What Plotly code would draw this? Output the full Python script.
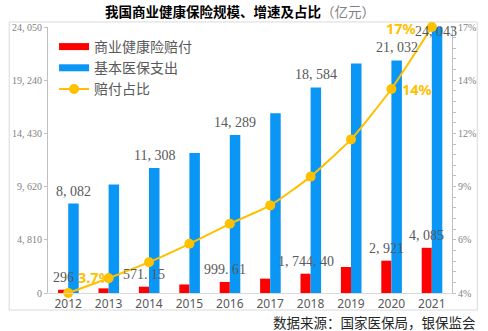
import plotly.graph_objects as go

# Data (亿元 / ratio)
years = [2012, 2013, 2014, 2015, 2016, 2017, 2018, 2019, 2020, 2021]
commercial_payout = [296, 420, 571.15, 770, 999.61, 1300, 1744.40, 2350, 2921, 4085]
basic_medical_spend = [8082, 9800, 11308, 12650, 14289, 16250, 18584, 20750, 21032, 24043]
payout_share = [0.037, 0.0444, 0.0524, 0.0616, 0.0716, 0.0808, 0.0952, 0.1138, 0.139, 0.17]

# Which bars carry value labels
labelled_years = [2012, 2014, 2016, 2018, 2020, 2021]
# Which points of the share line carry a label, with (xshift, yshift) in px
share_label_shift = {2012: (27, 16), 2020: (26, 0), 2021: (-31, -1)}

left_ticks = [0, 4810, 9620, 14430, 19240, 24050]
right_min, right_max = 0.037, 0.17
right_step = (right_max - right_min) / 5
right_ticks = [right_min + i * right_step for i in range(6)]

RED = "#FF0000"
BLUE = "#0A96F5"
GOLD = "#FFC000"
GREY = "#595959"
SERIF = "Liberation Serif"
CJK = "Noto Sans CJK SC"


def fmt_num(v):
    s = f"{v:,.2f}" if isinstance(v, float) else f"{v:,}"
    return s.replace(",", ", ").replace(".", ". ")


fig = go.Figure()

# Legend entries drawn as thick line swatches
fig.add_trace(go.Scatter(x=[None], y=[None], mode="lines", name="商业健康险赔付",
                         line=dict(color=RED, width=7), hoverinfo="skip"))
fig.add_trace(go.Scatter(x=[None], y=[None], mode="lines", name="基本医保支出",
                         line=dict(color=BLUE, width=7), hoverinfo="skip"))

fig.add_trace(go.Bar(x=years, y=commercial_payout, name="商业健康险赔付", showlegend=False,
                     marker=dict(color=RED, line=dict(width=0)), width=0.25, offset=-0.25))
fig.add_trace(go.Bar(x=years, y=basic_medical_spend, name="基本医保支出", showlegend=False,
                     marker=dict(color=BLUE, line=dict(width=0)), width=0.26, offset=0.0))

fig.add_trace(go.Scatter(x=years, y=payout_share, yaxis="y2", name="赔付占比",
                         mode="lines+markers", cliponaxis=False,
                         line=dict(color=GOLD, width=2, shape="spline", smoothing=0.5),
                         marker=dict(color=GOLD, size=10)))

annotations = []
# Value labels above the bars
for yr, red_v, blue_v in zip(years, commercial_payout, basic_medical_spend):
    if yr not in labelled_years:
        continue
    annotations.append(dict(x=yr - 0.125, y=red_v, xref="x", yref="y", text=fmt_num(red_v),
                            showarrow=False, xanchor="center", yanchor="bottom", yshift=3,
                            font=dict(family=SERIF, size=14, color=GREY)))
    blue_shift = -14 if yr == 2021 else 3
    annotations.append(dict(x=yr + 0.13, y=blue_v, xref="x", yref="y", text=fmt_num(blue_v),
                            showarrow=False, xanchor="center", yanchor="bottom",
                            yshift=blue_shift, xshift=-1 if yr == 2021 else 0,
                            font=dict(family=SERIF, size=14, color=GREY)))

# Share labels next to the line points
for yr, v in zip(years, payout_share):
    if yr not in share_label_shift:
        continue
    dx, dy = share_label_shift[yr]
    txt = f"{v:.1%}" if yr == 2012 else f"{v:.0%}"
    annotations.append(dict(x=yr, y=v, xref="x", yref="y2", text=f"<b>{txt}</b>",
                            showarrow=False, xanchor="center", yanchor="middle",
                            xshift=dx, yshift=dy,
                            font=dict(family="Noto Sans", size=14.5, color=GOLD)))

# Title and source note
annotations.append(dict(x=0.476, y=1.060, xref="paper", yref="paper", showarrow=False,
                        xanchor="center", yanchor="middle",
                        text="<b>我国商业健康保险规模、增速及占比</b><span style='color:#7F7F7F'>（亿元）</span>",
                        font=dict(family=CJK, size=13.5, color="#000000")))
annotations.append(dict(x=1.065, y=-0.109, xref="paper", yref="paper", showarrow=False,
                        xanchor="right", yanchor="middle",
                        text="数据来源：国家医保局，银保监会",
                        font=dict(family=CJK, size=13.5, color="#262626")))

fig.update_layout(
    width=488, height=331,
    margin=dict(l=42, r=30, t=27, b=38),
    paper_bgcolor="white", plot_bgcolor="white",
    barmode="overlay",
    showlegend=True,
    legend=dict(x=0.015, y=0.985, xanchor="left", yanchor="top",
                bgcolor="rgba(0,0,0,0)", itemwidth=30, tracegroupgap=0,
                font=dict(family=CJK, size=14, color=GREY)),
    xaxis=dict(range=[2011.5, 2021.5], tickvals=years, ticktext=[str(y) for y in years],
               showline=True, linecolor="#D9D9D9", linewidth=1, ticks="",
               showgrid=False, zeroline=False,
               tickfont=dict(family="Noto Sans", size=12, color=GREY)),
    yaxis=dict(range=[0, 24050], tickvals=left_ticks, ticktext=[fmt_num(v) for v in left_ticks],
               showline=True, linecolor="#BFBFBF", linewidth=1,
               ticks="outside", ticklen=3, tickcolor="#BFBFBF",
               showgrid=False, zeroline=False,
               tickfont=dict(family=SERIF, size=10, color="#7F7F7F")),
    yaxis2=dict(range=[right_min, right_max], overlaying="y", side="right",
                tickvals=right_ticks, ticktext=[f"{v:.0%}" for v in right_ticks],
                showline=True, linecolor="#BFBFBF", linewidth=1,
                ticks="outside", ticklen=3, tickcolor="#BFBFBF",
                minor=dict(ticks="outside", ticklen=3, tickcolor="#BFBFBF",
                           tick0=right_min, dtick=right_step / 5),
                showgrid=False, zeroline=False,
                tickfont=dict(family=SERIF, size=10, color="#7F7F7F")),
    annotations=annotations,
    shapes=[dict(type="rect", xref="paper", yref="paper",
                 x0=-0.096, x1=1.0625, y0=-0.064, y1=1.019,
                 line=dict(color="#D9D9D9", width=1), fillcolor="rgba(0,0,0,0)", layer="below")],
)

fig.write_html("out.html")
